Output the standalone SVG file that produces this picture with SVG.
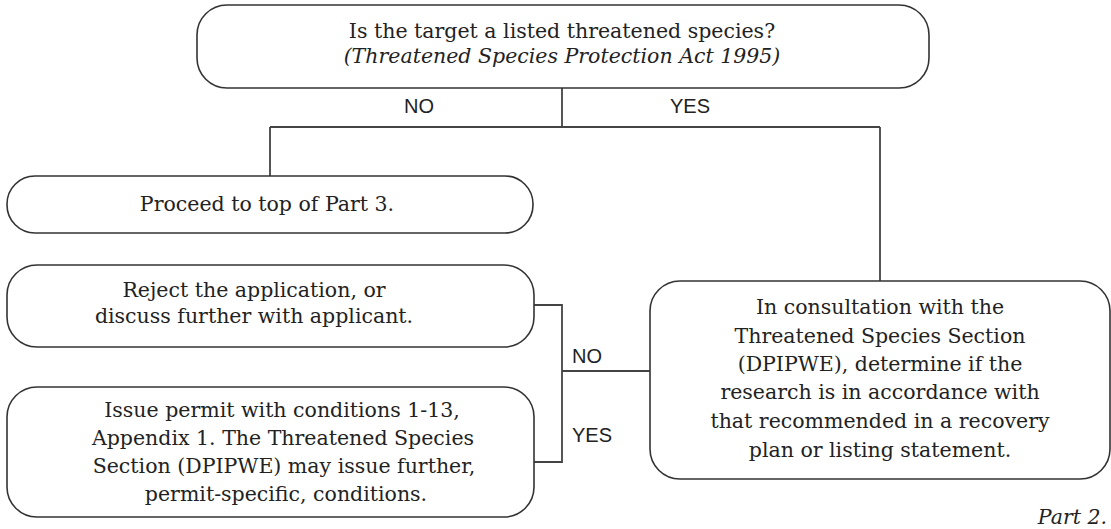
<svg xmlns="http://www.w3.org/2000/svg" width="1111" height="529" viewBox="0 0 1111 529">
<style>
.box{fill:#fff;stroke:#333;stroke-width:1.6}
.ln{fill:none;stroke:#444;stroke-width:1.8}
.t{font-family:"DejaVu Serif","Liberation Serif",serif;font-size:20.5px;fill:#222;text-anchor:middle}
.i{font-style:italic}
.e{text-anchor:end}
.s{font-family:"Liberation Sans",Arial,sans-serif;font-size:20px;fill:#222}
.m{text-anchor:middle}
</style>
<rect width="1111" height="529" fill="#fff"/>
<g id="connectors">
<path class="ln" d="M562 88V127M270 127H880M270 127V176M880 127V281"/>
<path class="ln" d="M534 305H562V462H534M562 371H650"/>
<text class="s m" x="419" y="113">NO</text>
<text class="s m" x="690" y="113">YES</text>
<text class="s" x="572" y="363">NO</text>
<text class="s" x="572" y="442">YES</text>
</g>
<g id="q1">
<rect class="box" x="197" y="5" width="732" height="83" rx="30"/>
<text class="t" x="562" y="38">Is the target a listed threatened species?</text>
<text class="t i" x="562" y="63">(Threatened Species Protection Act 1995)</text>
</g>
<g id="proceed">
<rect class="box" x="7" y="176" width="526" height="57" rx="28"/>
<text class="t" x="267" y="211">Proceed to top of Part 3.</text>
</g>
<g id="reject">
<rect class="box" x="7" y="265" width="527" height="82" rx="30"/>
<text class="t" x="254" y="297">Reject the application, or</text>
<text class="t" x="254" y="323">discuss further with applicant.</text>
</g>
<g id="issue">
<rect class="box" x="7" y="387" width="527" height="130" rx="30"/>
<text class="t" x="282" y="417">Issue permit with conditions 1-13,</text>
<text class="t" x="283" y="445">Appendix 1. The Threatened Species</text>
<text class="t" x="284" y="473">Section (DPIPWE) may issue further,</text>
<text class="t" x="286" y="501">permit-specific, conditions.</text>
</g>
<g id="consult">
<rect class="box" x="650" y="281" width="460" height="198" rx="30"/>
<text class="t" x="880" y="314">In consultation with the</text>
<text class="t" x="880" y="343">Threatened Species Section</text>
<text class="t" x="880" y="371">(DPIPWE), determine if the</text>
<text class="t" x="880" y="399">research is in accordance with</text>
<text class="t" x="880" y="428">that recommended in a recovery</text>
<text class="t" x="880" y="457">plan or listing statement.</text>
</g>
<text class="t i e" x="1107" y="524">Part 2.</text>
</svg>
